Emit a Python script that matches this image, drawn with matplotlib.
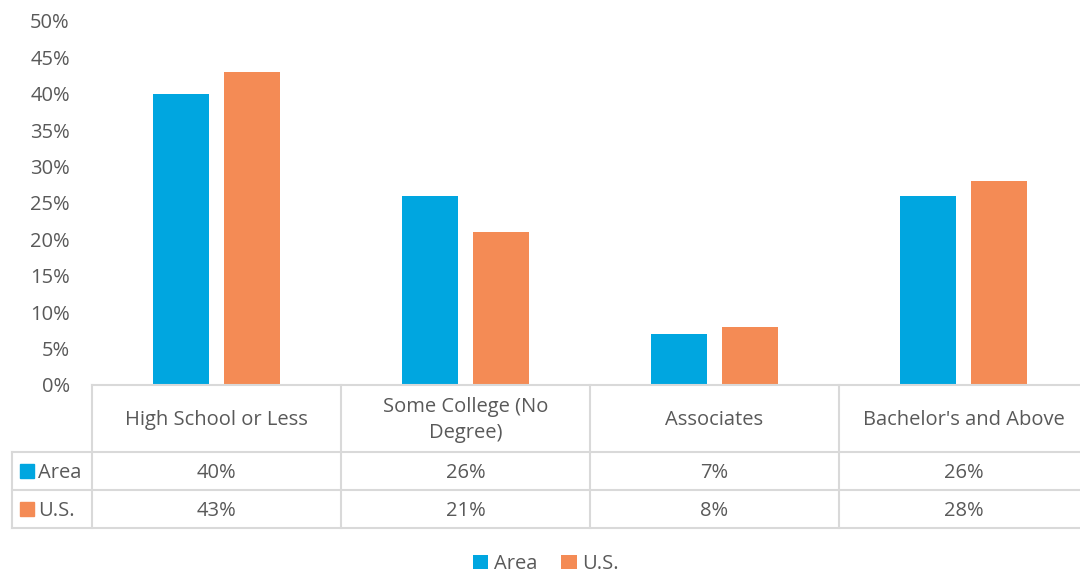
import matplotlib
matplotlib.use("Agg")
import matplotlib.pyplot as plt
from matplotlib.lines import Line2D
from matplotlib.patches import Patch
import numpy as np

categories = ["High School or Less", "Some College (No\nDegree)", "Associates", "Bachelor's and Above"]
series_names = ["Area", "U.S."]
area = [40, 26, 7, 26]
us = [43, 21, 8, 28]
yticks = [0, 5, 10, 15, 20, 25, 30, 35, 40, 45, 50]

colors = ["#00A6E0", "#F48B55"]
text_color = "#595959"
grid_color = "#D9D9D9"
plt.rcParams['font.family'] = ['Open Sans', 'DejaVu Sans']
FS = 14.5

W, H = 1080, 576
fig = plt.figure(figsize=(W / 100, H / 100), dpi=100)
x0, x1 = 92, 1088
y0, y1 = 385, 21
ax = fig.add_axes([x0 / W, 1 - y0 / H, (x1 - x0) / W, (y0 - y1) / H])
n = len(categories)
x = np.arange(n)
bw = 0.225
ax.bar(x - 0.143, area, bw, color=colors[0], zorder=3)
ax.bar(x + 0.143, us, bw, color=colors[1], zorder=3)
ax.set_xlim(-0.5, n - 0.5)
ax.set_ylim(0, 50)
ax.set_yticks(yticks)
ax.set_yticklabels([f"{t}%" for t in yticks], fontsize=FS, color=text_color)
ax.tick_params(axis='y', length=0, pad=16)
ax.set_xticks([])
for s in ax.spines.values():
    s.set_visible(False)

def fx(px):
    return px / W

def fy(py):
    return 1 - py / H

cw = (x1 - x0) / n
rows_y = [385, 452, 490, 528]
lw = 1.5
fig.add_artist(Line2D([fx(x0), fx(x1)], [fy(385), fy(385)], color=grid_color, lw=lw))
for yy in rows_y[1:]:
    fig.add_artist(Line2D([fx(12), fx(x1)], [fy(yy), fy(yy)], color=grid_color, lw=lw))
for i in range(n):
    xx = x0 + i * cw
    fig.add_artist(Line2D([fx(xx), fx(xx)], [fy(385), fy(528)], color=grid_color, lw=lw))
fig.add_artist(Line2D([fx(12), fx(12)], [fy(452), fy(528)], color=grid_color, lw=lw))

for i, cat in enumerate(categories):
    cx = x0 + (i + 0.5) * cw
    fig.text(fx(cx), fy(420), cat, ha='center', va='center', fontsize=FS,
             color=text_color, linespacing=1.35)
    fig.text(fx(cx), fy(472.5), f"{area[i]}%", ha='center', va='center', fontsize=FS, color=text_color)
    fig.text(fx(cx), fy(510.5), f"{us[i]}%", ha='center', va='center', fontsize=FS, color=text_color)

for j, (name, col) in enumerate(zip(series_names, colors)):
    cy = 471 + j * 38
    fig.add_artist(plt.Rectangle((fx(20), fy(cy + 7)), 14 / W, 14 / H, color=col,
                                 transform=fig.transFigure))
    fig.text(fx(38), fy(cy + 1.5), name, ha='left', va='center', fontsize=FS, color=text_color)

handles = [Patch(facecolor=c, edgecolor='none') for c in colors]
fig.legend(handles, series_names, loc='center', bbox_to_anchor=(fx(546), fy(564)),
           ncol=2, frameon=False, fontsize=FS, labelcolor=text_color,
           handlelength=0.75, handleheight=0.75, handletextpad=0.3, columnspacing=1.2)

fig.savefig("out.png", dpi=100)
